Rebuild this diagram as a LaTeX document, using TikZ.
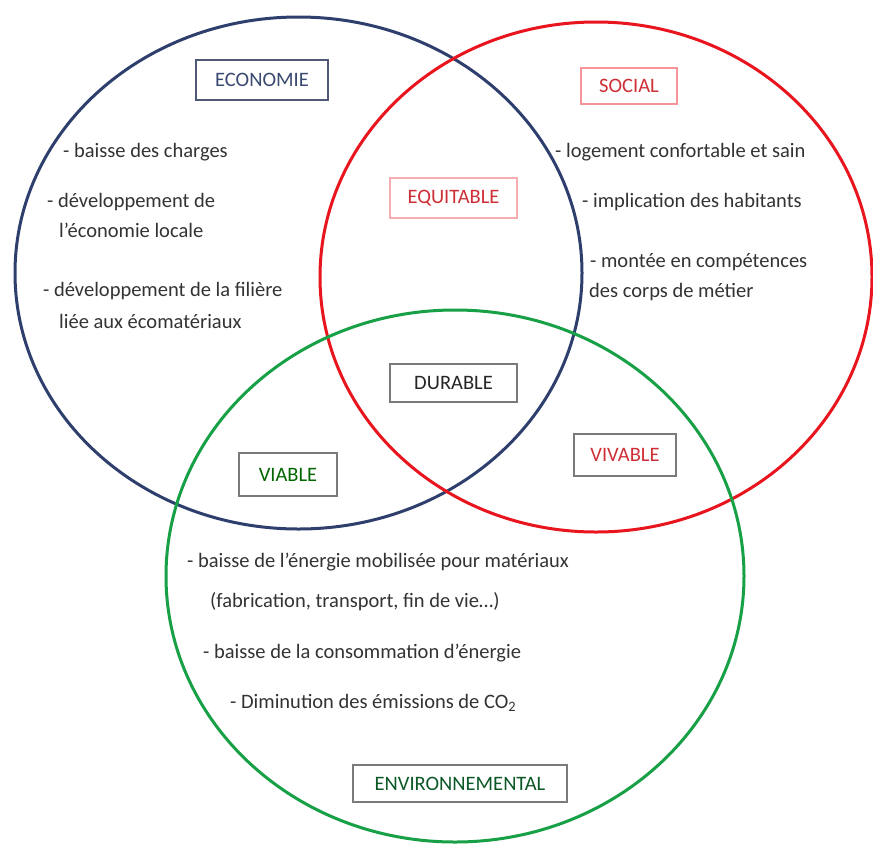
\documentclass[tikz,border=0pt]{standalone}
\usepackage{fontspec}
\setmainfont{Carlito}
\definecolor{blueC}{HTML}{2E3F6E}
\definecolor{redC}{HTML}{E8141E}
\definecolor{greenC}{HTML}{17A046}
\definecolor{textC}{HTML}{333333}
\definecolor{grayB}{HTML}{7A7A7A}
\begin{document}
\begin{tikzpicture}[x=1pt,y=-1pt,
  every node/.style={font=\fontsize{20.5}{24}\selectfont},
  circ/.style={line width=3pt},
  item/.style={anchor=base west, inner sep=0pt, text=textC},
  tagbox/.style={draw=grayB, line width=1.3pt, inner sep=0pt, minimum height=40pt}]
\useasboundingbox[fill=white] (0,0) rectangle (873,844);
% ellipses
\draw[circ, blueC] (298.5,273) ellipse [x radius=283.5pt, y radius=256pt];
\draw[circ, redC] (596,277) ellipse [x radius=276pt, y radius=255pt];
\draw[circ, greenC] (455,576) ellipse [x radius=289pt, y radius=266pt];
% tag boxes
\node[tagbox, draw=blueC!60!gray, text=blueC!85!gray, minimum width=132pt] (eco) at (262,80) {ECONOMIE};
\node[tagbox, draw=redC!45!white, text=redC!75!gray, minimum width=96pt, minimum height=36pt] (soc) at (629,86) {SOCIAL};
\node[tagbox, draw=redC!35!white, text=redC!75!gray, minimum width=127pt] (equ) at (453.5,198) {EQUITABLE};
\node[tagbox, text=black!85, minimum width=127pt, minimum height=38pt] (dur) at (453.5,383) {DURABLE};
\node[tagbox, text=green!40!black, minimum width=98pt, minimum height=43pt] (via) at (288,474.5) {VIABLE};
\node[tagbox, text=redC!75!gray, minimum width=102pt, minimum height=42pt] (viv) at (625,455) {VIVABLE};
\node[tagbox, text=greenC!55!black, minimum width=214pt, minimum height=37pt] (env) at (460,783.5) {ENVIRONNEMENTAL};
% economie items
\node[item] (e1) at (63,157) {- baisse des charges};
\node[item] (e2) at (47,207) {- développement de};
\node[item] (e3) at (59,237) {l’économie locale};
\node[item] (e4) at (43,296) {- développement de la filière};
\node[item] (e5) at (59,328) {liée aux écomatériaux};
% social items
\node[item] (s1) at (555,157) {- logement confortable et sain};
\node[item] (s2) at (582,207) {- implication des habitants};
\node[item] (s3) at (590,267) {- montée en compétences};
\node[item] (s4) at (589,297) {des corps de métier};
% environnement items
\node[item] (n1) at (187,567) {- baisse de l’énergie mobilisée pour matériaux};
\node[item] (n2) at (210,607) {(fabrication, transport, fin de vie…)};
\node[item] (n3) at (203,658) {- baisse de la consommation d’énergie};
\node[item] (n4) at (230,708) {- Diminution des émissions de CO\textsubscript{2}};
\end{tikzpicture}
\end{document}
